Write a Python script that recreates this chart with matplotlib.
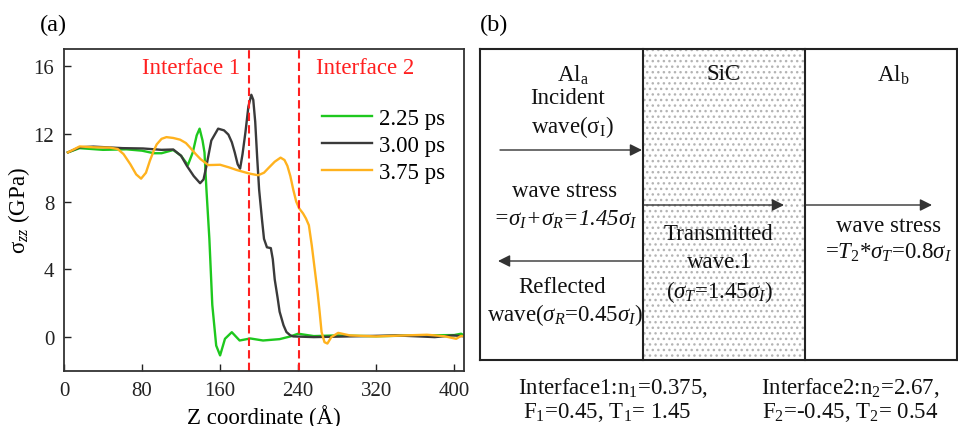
import matplotlib
matplotlib.use("Agg")
import matplotlib.pyplot as plt
from matplotlib.patches import Rectangle

plt.rcParams['font.family'] = ['Liberation Serif', 'DejaVu Serif']
plt.rcParams['mathtext.fontset'] = 'custom'
plt.rcParams['mathtext.rm'] = 'Liberation Serif'
plt.rcParams['mathtext.it'] = 'Liberation Serif:italic'
plt.rcParams['mathtext.bf'] = 'Liberation Serif:bold'

# ---- panel (a) data ----
z_225 = [4, 16, 40, 64, 80, 92, 100, 112, 120, 127, 132, 136, 139, 142, 144, 146, 149, 152, 156, 160,
         165, 172, 180, 191, 204, 221, 232, 240, 256, 280, 320, 360, 400, 407, 410]
s_225 = [10.9, 11.15, 11.05, 11.08, 11.0, 10.85, 10.85, 11.04, 10.7, 10.15, 10.9, 11.9, 12.3, 11.6, 10.9, 8.7, 5.8, 1.9, -0.5, -1.08,
         -0.1, 0.29, -0.2, -0.08, -0.2, -0.12, 0.04, 0.2, 0.06, 0.1, 0.05, 0.1, 0.12, 0.2, 0.1]

z_300 = [4, 16, 30, 60, 81, 100, 112, 120, 126, 133, 139.5, 143, 146, 151, 158, 164, 168.5, 172, 175, 178, 180.5,
         183, 186, 189, 192, 194, 196, 198, 200, 203, 205, 208, 212, 214, 216, 219, 221, 225, 228, 232, 235,
         256, 300, 340, 380, 399, 410]
s_300 = [10.9, 11.2, 11.24, 11.15, 11.13, 11.05, 11.07, 10.7, 10.1, 9.5, 9.08, 9.3, 10.1, 11.6, 12.3, 12.2, 11.95, 11.5, 10.9, 10.2, 9.94,
         10.8, 12.1, 13.6, 14.3, 14.0, 12.7, 10.6, 8.7, 6.9, 5.8, 5.3, 5.25, 4.6, 3.4, 2.3, 1.5, 0.7, 0.3, 0.1, 0.04,
         0.0, 0.05, 0.1, 0.0, 0.1, 0.05]

z_375 = [4, 16, 30, 47, 55, 61, 68, 74, 79, 84, 88, 92, 95, 100, 105, 112, 119, 125, 129, 135, 140, 148, 160, 170, 177,
         190, 199, 205, 210, 216, 222, 226, 229, 232, 235, 238, 241, 245, 248, 251, 254, 257, 260, 262, 264,
         267, 270, 274, 281, 293, 320, 350, 372, 390, 402, 407, 410]
s_375 = [10.9, 11.25, 11.2, 11.18, 11.1, 10.8, 10.2, 9.6, 9.35, 9.7, 10.4, 11.0, 11.37, 11.7, 11.8, 11.75, 11.65, 11.45, 11.2, 10.8, 10.5, 10.15, 10.17, 10.0, 9.86,
         9.65, 9.55, 9.7, 10.0, 10.35, 10.59, 10.45, 10.1, 9.5, 8.7, 8.0, 7.6, 7.3, 7.0, 6.6, 5.4, 4.0, 2.6, 1.5, 0.3,
         -0.3, -0.38, 0.0, 0.25, 0.1, 0.04, 0.1, 0.14, 0.05, -0.1, 0.07, 0.05]

series_labels = ['2.25 ps', '3.00 ps', '3.75 ps']
series_colors = ['#1ec81e', '#3a3a3a', '#ffb21e']
interfaces = [190, 241]
interface_names = ['Interface 1', 'Interface 2']
x_ticks = [0, 80, 160, 240, 320, 400]
y_ticks = [0, 4, 8, 12, 16]

fig = plt.figure(figsize=(9.58, 4.27), dpi=100)

# ---- panel (a) ----
ax = fig.add_axes([64 / 958, 1 - 372 / 427, 400 / 958, 322 / 427])
for zs, ss, lab, col in zip([z_225, z_300, z_375], [s_225, s_300, s_375], series_labels, series_colors):
    ax.plot(zs, ss, color=col, lw=1.7, label=lab)
for xi in interfaces:
    ax.axvline(xi, color='#ff2020', lw=1.5, ls=(0, (4, 2)))
ax.text(130, 15.9, interface_names[0], color='#ff2020', fontsize=16.5, ha='center', va='center')
ax.text(309, 15.9, interface_names[1], color='#ff2020', fontsize=16.5, ha='center', va='center')

ax.set_xlim(0, 410)
ax.set_ylim(-2, 17)
ax.set_xticks(x_ticks)
ax.set_yticks(y_ticks)
ax.tick_params(direction='in', length=5, width=1, labelsize=15, colors='#222222', pad=7)
for sp in ax.spines.values():
    sp.set_linewidth(1.3)
    sp.set_color('#333333')
ax.set_xlabel('Z coordinate (Å)', fontsize=16.5, labelpad=3)
ax.set_ylabel(r'σ$_{zz}$ (GPa)', fontsize=16.5, labelpad=1)
ax.legend(loc='upper left', bbox_to_anchor=(0.645, 0.816), frameon=False, fontsize=16.5,
          handlelength=2.2, handletextpad=0.3, labelspacing=0.25, borderpad=0, borderaxespad=0)

fig.text(53 / 958, 1 - 25 / 427, '(a)', fontsize=17.5, ha='center', va='center')
fig.text(494 / 958, 1 - 25 / 427, '(b)', fontsize=17.5, ha='center', va='center')

# ---- panel (b): schematic, drawn in pixel coordinates ----
dg = fig.add_axes([0, 0, 1, 1], zorder=-1)
dg.set_xlim(0, 958)
dg.set_ylim(427, 0)
dg.axis('off')

dg.add_patch(Rectangle((643, 50), 162, 311, facecolor='white', edgecolor='#b4b4b4',
                       hatch='...', lw=0))
box_kw = dict(color='#222222', lw=1.5)
dg.plot([480, 957.2], [50, 50], **box_kw)
dg.plot([480, 957.2], [361, 361], **box_kw)
dg.plot([480, 480], [50, 361], **box_kw)
dg.plot([957.2, 957.2], [50, 361], **box_kw)
dg.plot([643, 643], [50, 361], **box_kw)
dg.plot([805, 805], [50, 361], **box_kw)

arr = dict(arrowstyle='-|>', color='#333333', lw=1.0, mutation_scale=18, shrinkA=0, shrinkB=0)
dg.annotate('', xy=(642, 151), xytext=(500, 151), arrowprops=arr)
dg.annotate('', xy=(498, 262), xytext=(642, 262), arrowprops=arr)
dg.annotate('', xy=(784, 206), xytext=(644, 206), arrowprops=arr)
dg.annotate('', xy=(932, 206), xytext=(806, 206), arrowprops=arr)

tk = dict(fontsize=16.5, ha='center', va='center', color='#111111')
dg.text(573, 75, r'Al$_\mathrm{a}$', **tk)
dg.text(568, 99, 'Incident', **tk)
dg.text(572, 127, r'wave(σ$_\mathrm{I}$)', **tk)
dg.text(565, 192, 'wave stress', **tk)
dg.text(565, 220, r'=$\sigma_I$+$\sigma_R$=1.45$\sigma_I$', fontstyle='italic', **tk)
dg.text(562, 288, 'Reflected', **tk)
dg.text(565, 315, r'wave($\sigma_R$=0.45$\sigma_I$)', **tk)

dg.text(724, 75, 'SiC', **tk)
dg.text(719, 235, 'Transmitted', **tk)
dg.text(720, 263, 'wave.1', **tk)
dg.text(720, 292, r'($\sigma_T$=1.45$\sigma_I$)', **tk)

dg.text(893, 75, r'Al$_\mathrm{b}$', **tk)
dg.text(889, 227, 'wave stress', **tk)
dg.text(889, 253, r'=$T_2$*$\sigma_T$=0.8$\sigma_I$', **tk)

dg.text(613, 388, r'Interface1:n$_1$=0.375,', **tk)
dg.text(607, 413, r'F$_1$=0.45, T$_1$= 1.45', **tk)
dg.text(850, 388, r'Interface2:n$_2$=2.67,', **tk)
dg.text(850, 413, r'F$_2$=-0.45, T$_2$= 0.54', **tk)

fig.savefig('out.png', dpi=100)
